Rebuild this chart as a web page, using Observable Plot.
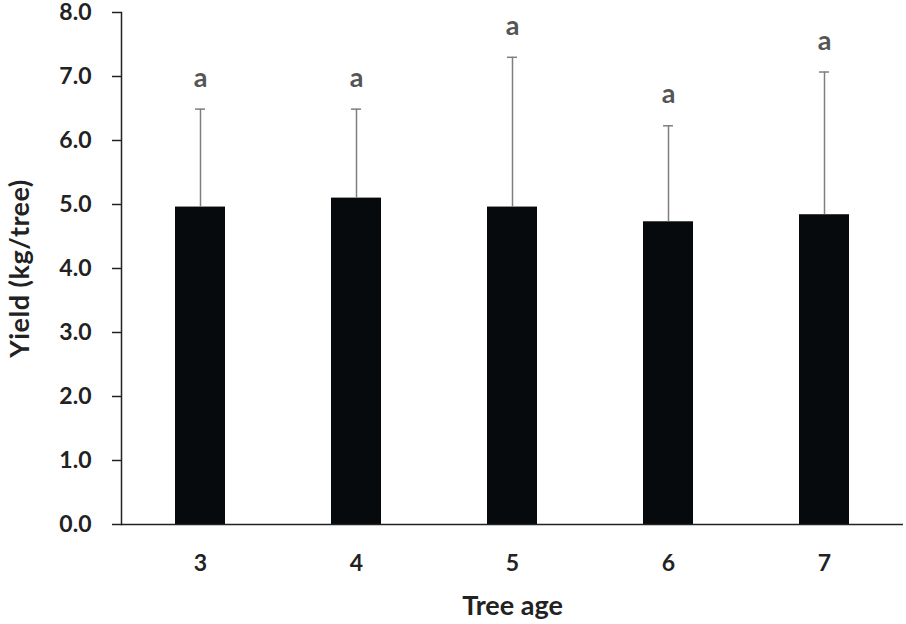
<!DOCTYPE html>
<html>
<head>
<meta charset="utf-8">
<script src="https://cdn.jsdelivr.net/npm/d3@7"></script>
<script src="https://cdn.jsdelivr.net/npm/@observablehq/plot@0.6"></script>
<style>
  html, body { margin: 0; padding: 0; background: #fff; }
  #chart svg { display: block; overflow: visible; }
</style>
</head>
<body>
<div id="chart"></div>
<script>
const ages = ["3", "4", "5", "6", "7"];
const yieldMean = [4.96, 5.10, 4.96, 4.73, 4.84];
const yieldSD = [1.53, 1.39, 2.34, 1.50, 2.23];
const letters = ["a", "a", "a", "a", "a"];
const yTicks = [0, 1, 2, 3, 4, 5, 6, 7, 8];

const data = ages.map((a, i) => ({
  age: a,
  mean: yieldMean[i],
  top: yieldMean[i] + yieldSD[i],
  letter: letters[i]
}));

const font = "Lato, 'Open Sans', sans-serif";

const chart = Plot.plot({
  width: 906,
  height: 624,
  marginLeft: 121,
  marginRight: 3,
  marginTop: 12,
  marginBottom: 100,
  style: { fontFamily: font, fontWeight: "bold", color: "#222", background: "#fff", overflow: "visible" },
  x: { domain: ages, paddingInner: 0.68, paddingOuter: 0.34 },
  y: { domain: [0, 8] },
  marks: [
    Plot.barY(data, { x: "age", y: "mean", fill: "#060a0c" }),
    Plot.ruleX(data, { x: "age", y1: "mean", y2: "top", stroke: "#7f7f7f", strokeWidth: 1.5 }),
    Plot.tickY(data, { x: "age", y: "top", stroke: "#7f7f7f", strokeWidth: 1.5, insetLeft: 20, insetRight: 20 }),
    Plot.text(data, { x: "age", y: "top", text: "letter", dy: -31, fill: "#555", fontSize: 27, fontWeight: "bold" }),
    Plot.ruleY([0], { stroke: "#222", strokeWidth: 1.5 }),
    Plot.frame({ anchor: "left", stroke: "#222", strokeWidth: 1.5 }),
    Plot.axisY({
      ticks: yTicks, tickFormat: d3.format(".1f"), tickSize: 9, tickPadding: 21,
      fontSize: 23, stroke: "#222", strokeWidth: 1.5, strokeOpacity: 1,
      label: "Yield (kg/tree)", labelAnchor: "center", labelOffset: 112, labelArrow: "none"
    }),
    Plot.axisX({
      tickSize: 0, tickPadding: 30, fontSize: 23,
      label: "Tree age", labelAnchor: "center", labelOffset: 90, labelArrow: "none"
    })
  ]
});

chart.querySelectorAll("[aria-label='x-axis label']").forEach(g => {
  g.setAttribute("font-size", 27);
});
chart.querySelectorAll("[aria-label='y-axis label']").forEach(g => {
  g.setAttribute("font-size", 27);
  g.setAttribute("letter-spacing", "0.5");
});

document.getElementById("chart").appendChild(chart);
</script>
</body>
</html>
